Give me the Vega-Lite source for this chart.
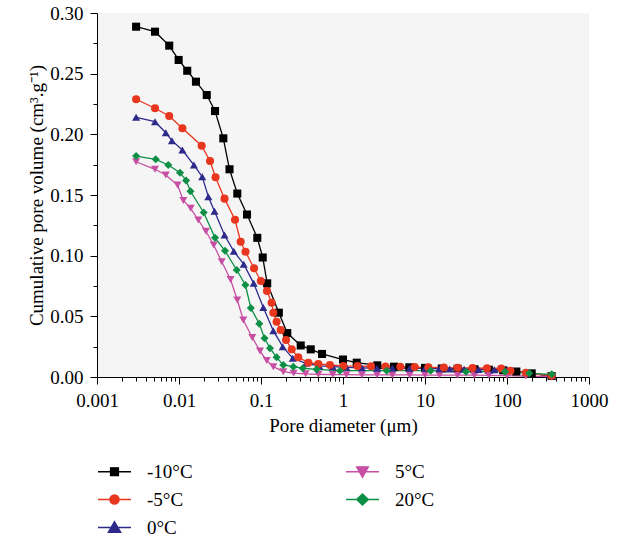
{
  "$schema": "https://vega.github.io/schema/vega-lite/v6.json",
  "width": 492,
  "height": 364,
  "autosize": {"type": "none"},
  "padding": {"left": 97, "top": 13, "right": 30, "bottom": 160},
  "background": "white",
  "config": {
    "font": "Liberation Serif",
    "view": {"fill": "#f5f5f5", "stroke": null},
    "axis": {
      "grid": false,
      "domainColor": "#000000",
      "tickColor": "#000000",
      "labelColor": "#000000",
      "titleColor": "#000000",
      "labelFont": "Liberation Serif",
      "titleFont": "Liberation Serif",
      "labelFontSize": 19,
      "titleFontSize": 19,
      "titleFontWeight": "normal",
      "domainWidth": 1,
      "tickWidth": 1
    }
  },
  "data": {
    "values": [
      {"s": "-10°C", "d": 0.003, "v": 0.2887},
      {"s": "-10°C", "d": 0.0051, "v": 0.2846},
      {"s": "-10°C", "d": 0.0076, "v": 0.2731},
      {"s": "-10°C", "d": 0.0099, "v": 0.2613},
      {"s": "-10°C", "d": 0.0126, "v": 0.2524},
      {"s": "-10°C", "d": 0.0161, "v": 0.2434},
      {"s": "-10°C", "d": 0.0218, "v": 0.2324},
      {"s": "-10°C", "d": 0.0275, "v": 0.2192},
      {"s": "-10°C", "d": 0.0347, "v": 0.1967},
      {"s": "-10°C", "d": 0.0413, "v": 0.1712},
      {"s": "-10°C", "d": 0.0514, "v": 0.1512},
      {"s": "-10°C", "d": 0.0675, "v": 0.1339},
      {"s": "-10°C", "d": 0.0901, "v": 0.1147},
      {"s": "-10°C", "d": 0.105, "v": 0.0985},
      {"s": "-10°C", "d": 0.119, "v": 0.0772},
      {"s": "-10°C", "d": 0.165, "v": 0.053},
      {"s": "-10°C", "d": 0.209, "v": 0.0362},
      {"s": "-10°C", "d": 0.305, "v": 0.026},
      {"s": "-10°C", "d": 0.404, "v": 0.0228},
      {"s": "-10°C", "d": 0.555, "v": 0.019},
      {"s": "-10°C", "d": 1.0, "v": 0.0144},
      {"s": "-10°C", "d": 1.47, "v": 0.0118},
      {"s": "-10°C", "d": 2.62, "v": 0.0096},
      {"s": "-10°C", "d": 4.19, "v": 0.0085},
      {"s": "-10°C", "d": 6.44, "v": 0.008},
      {"s": "-10°C", "d": 10, "v": 0.0075},
      {"s": "-10°C", "d": 16, "v": 0.007},
      {"s": "-10°C", "d": 25, "v": 0.0068},
      {"s": "-10°C", "d": 40, "v": 0.0064},
      {"s": "-10°C", "d": 60, "v": 0.006},
      {"s": "-10°C", "d": 90, "v": 0.0055},
      {"s": "-10°C", "d": 130, "v": 0.0045},
      {"s": "-10°C", "d": 200, "v": 0.003},
      {"s": "-10°C", "d": 350, "v": 0.0008},

      {"s": "5°C", "d": 0.003, "v": 0.1774},
      {"s": "5°C", "d": 0.0051, "v": 0.1712},
      {"s": "5°C", "d": 0.0069, "v": 0.1665},
      {"s": "5°C", "d": 0.0096, "v": 0.1582},
      {"s": "5°C", "d": 0.0113, "v": 0.1455},
      {"s": "5°C", "d": 0.0139, "v": 0.139},
      {"s": "5°C", "d": 0.0172, "v": 0.1294},
      {"s": "5°C", "d": 0.0213, "v": 0.1201},
      {"s": "5°C", "d": 0.0265, "v": 0.1088},
      {"s": "5°C", "d": 0.0332, "v": 0.095},
      {"s": "5°C", "d": 0.0425, "v": 0.0804},
      {"s": "5°C", "d": 0.0514, "v": 0.0635},
      {"s": "5°C", "d": 0.0608, "v": 0.047},
      {"s": "5°C", "d": 0.0782, "v": 0.0326},
      {"s": "5°C", "d": 0.0973, "v": 0.0214},
      {"s": "5°C", "d": 0.1175, "v": 0.0136},
      {"s": "5°C", "d": 0.1413, "v": 0.0085},
      {"s": "5°C", "d": 0.187, "v": 0.0044},
      {"s": "5°C", "d": 0.25, "v": 0.0032},
      {"s": "5°C", "d": 0.35, "v": 0.0026},
      {"s": "5°C", "d": 0.5, "v": 0.0022},
      {"s": "5°C", "d": 0.75, "v": 0.002},
      {"s": "5°C", "d": 1.1, "v": 0.0019},
      {"s": "5°C", "d": 1.7, "v": 0.0018},
      {"s": "5°C", "d": 2.6, "v": 0.0018},
      {"s": "5°C", "d": 4, "v": 0.0017},
      {"s": "5°C", "d": 6.5, "v": 0.0017},
      {"s": "5°C", "d": 10, "v": 0.0016},
      {"s": "5°C", "d": 15, "v": 0.0016},
      {"s": "5°C", "d": 25, "v": 0.0015},
      {"s": "5°C", "d": 40, "v": 0.0015},
      {"s": "5°C", "d": 60, "v": 0.0014},
      {"s": "5°C", "d": 100, "v": 0.0012},
      {"s": "5°C", "d": 170, "v": 0.0008},
      {"s": "5°C", "d": 350, "v": 0.0003},

      {"s": "0°C", "d": 0.003, "v": 0.214},
      {"s": "0°C", "d": 0.0051, "v": 0.2104},
      {"s": "0°C", "d": 0.0069, "v": 0.2013},
      {"s": "0°C", "d": 0.0082, "v": 0.1948},
      {"s": "0°C", "d": 0.011, "v": 0.1871},
      {"s": "0°C", "d": 0.0152, "v": 0.1747},
      {"s": "0°C", "d": 0.0192, "v": 0.1651},
      {"s": "0°C", "d": 0.0228, "v": 0.1486},
      {"s": "0°C", "d": 0.0271, "v": 0.1366},
      {"s": "0°C", "d": 0.0359, "v": 0.117},
      {"s": "0°C", "d": 0.0466, "v": 0.1036},
      {"s": "0°C", "d": 0.0615, "v": 0.093},
      {"s": "0°C", "d": 0.0815, "v": 0.0772},
      {"s": "0°C", "d": 0.1067, "v": 0.0573},
      {"s": "0°C", "d": 0.1413, "v": 0.0382},
      {"s": "0°C", "d": 0.184, "v": 0.025},
      {"s": "0°C", "d": 0.244, "v": 0.0154},
      {"s": "0°C", "d": 0.354, "v": 0.0113},
      {"s": "0°C", "d": 0.514, "v": 0.0091},
      {"s": "0°C", "d": 0.75, "v": 0.0085},
      {"s": "0°C", "d": 1.1, "v": 0.008},
      {"s": "0°C", "d": 1.7, "v": 0.0076},
      {"s": "0°C", "d": 2.6, "v": 0.0072},
      {"s": "0°C", "d": 4, "v": 0.0072},
      {"s": "0°C", "d": 6.5, "v": 0.0072},
      {"s": "0°C", "d": 10, "v": 0.0072},
      {"s": "0°C", "d": 15, "v": 0.0068},
      {"s": "0°C", "d": 20, "v": 0.0066},
      {"s": "0°C", "d": 30, "v": 0.0064},
      {"s": "0°C", "d": 45, "v": 0.0062},
      {"s": "0°C", "d": 70, "v": 0.006},
      {"s": "0°C", "d": 100, "v": 0.0055},
      {"s": "0°C", "d": 170, "v": 0.0035},
      {"s": "0°C", "d": 350, "v": 0.001},

      {"s": "-5°C", "d": 0.003, "v": 0.2289},
      {"s": "-5°C", "d": 0.0051, "v": 0.2215},
      {"s": "-5°C", "d": 0.0076, "v": 0.2151},
      {"s": "-5°C", "d": 0.011, "v": 0.205},
      {"s": "-5°C", "d": 0.0189, "v": 0.1906},
      {"s": "-5°C", "d": 0.0239, "v": 0.178},
      {"s": "-5°C", "d": 0.0279, "v": 0.1646},
      {"s": "-5°C", "d": 0.0359, "v": 0.147},
      {"s": "-5°C", "d": 0.0482, "v": 0.1296},
      {"s": "-5°C", "d": 0.0565, "v": 0.1115},
      {"s": "-5°C", "d": 0.0647, "v": 0.1033},
      {"s": "-5°C", "d": 0.0822, "v": 0.0896},
      {"s": "-5°C", "d": 0.0996, "v": 0.0791},
      {"s": "-5°C", "d": 0.1183, "v": 0.0709},
      {"s": "-5°C", "d": 0.1349, "v": 0.0612},
      {"s": "-5°C", "d": 0.1413, "v": 0.053},
      {"s": "-5°C", "d": 0.155, "v": 0.0456},
      {"s": "-5°C", "d": 0.174, "v": 0.0387},
      {"s": "-5°C", "d": 0.202, "v": 0.0305},
      {"s": "-5°C", "d": 0.237, "v": 0.0228},
      {"s": "-5°C", "d": 0.285, "v": 0.0162},
      {"s": "-5°C", "d": 0.378, "v": 0.0118},
      {"s": "-5°C", "d": 0.5, "v": 0.0107},
      {"s": "-5°C", "d": 0.693, "v": 0.0099},
      {"s": "-5°C", "d": 1.01, "v": 0.0091},
      {"s": "-5°C", "d": 1.5, "v": 0.009},
      {"s": "-5°C", "d": 2.2, "v": 0.0088},
      {"s": "-5°C", "d": 3.3, "v": 0.0086},
      {"s": "-5°C", "d": 5, "v": 0.0084},
      {"s": "-5°C", "d": 7.5, "v": 0.0082},
      {"s": "-5°C", "d": 11, "v": 0.008},
      {"s": "-5°C", "d": 17, "v": 0.0078},
      {"s": "-5°C", "d": 25, "v": 0.0076},
      {"s": "-5°C", "d": 38, "v": 0.0074},
      {"s": "-5°C", "d": 57, "v": 0.0072},
      {"s": "-5°C", "d": 85, "v": 0.007},
      {"s": "-5°C", "d": 110, "v": 0.0052},
      {"s": "-5°C", "d": 170, "v": 0.0035},
      {"s": "-5°C", "d": 350, "v": 0.001},

      {"s": "20°C", "d": 0.003, "v": 0.1821},
      {"s": "20°C", "d": 0.0052, "v": 0.1794},
      {"s": "20°C", "d": 0.0074, "v": 0.1747},
      {"s": "20°C", "d": 0.0103, "v": 0.1684},
      {"s": "20°C", "d": 0.0122, "v": 0.162},
      {"s": "20°C", "d": 0.0138, "v": 0.1531},
      {"s": "20°C", "d": 0.02, "v": 0.1356},
      {"s": "20°C", "d": 0.0275, "v": 0.1147},
      {"s": "20°C", "d": 0.0364, "v": 0.104},
      {"s": "20°C", "d": 0.0506, "v": 0.0882},
      {"s": "20°C", "d": 0.0645, "v": 0.0758},
      {"s": "20°C", "d": 0.0752, "v": 0.0569},
      {"s": "20°C", "d": 0.0953, "v": 0.0439},
      {"s": "20°C", "d": 0.1104, "v": 0.0319},
      {"s": "20°C", "d": 0.1288, "v": 0.0237},
      {"s": "20°C", "d": 0.155, "v": 0.0162},
      {"s": "20°C", "d": 0.187, "v": 0.0099},
      {"s": "20°C", "d": 0.248, "v": 0.0085},
      {"s": "20°C", "d": 0.323, "v": 0.0072},
      {"s": "20°C", "d": 0.477, "v": 0.0063},
      {"s": "20°C", "d": 0.918, "v": 0.0052},
      {"s": "20°C", "d": 3.41, "v": 0.0052},
      {"s": "20°C", "d": 11.7, "v": 0.0052},
      {"s": "20°C", "d": 31.6, "v": 0.0044},
      {"s": "20°C", "d": 94.6, "v": 0.0044},
      {"s": "20°C", "d": 187, "v": 0.003},
      {"s": "20°C", "d": 351, "v": 0.0022}
    ]
  },
  "layer": [
    {
      "mark": {"type": "line", "strokeWidth": 1.3},
      "encoding": {
        "x": {
          "field": "d", "type": "quantitative",
          "scale": {"type": "log", "domain": [0.001, 1000]},
          "axis": {
            "orient": "bottom",
            "values": [0.001, 0.01, 0.1, 1, 10, 100, 1000],
            "format": "~g",
            "tickSize": 7,
            "labelPadding": 7,
            "labelFlush": false,
            "labelOverlap": false,
            "title": "Pore diameter (μm)",
            "titlePadding": 6
          }
        },
        "y": {
          "field": "v", "type": "quantitative",
          "scale": {"domain": [0, 0.3]},
          "axis": {
            "orient": "left",
            "values": [0, 0.05, 0.1, 0.15, 0.2, 0.25, 0.3],
            "format": ".2f",
            "tickSize": 7,
            "labelPadding": 7,
            "labelFlush": false,
            "labelOverlap": false,
            "title": "Cumulative pore volume (cm³.g⁻¹)",
            "titlePadding": 3
          }
        },
        "stroke": {
          "field": "s", "type": "nominal",
          "scale": {
            "domain": ["-10°C", "-5°C", "0°C", "5°C", "20°C"],
            "range": ["#000000", "#e8361f", "#2d2a8c", "#c64fa3", "#0d8f45"]
          },
          "legend": null
        },
        "order": {"field": "d", "type": "quantitative"}
      }
    },
    {
      "mark": {"type": "point", "filled": true, "size": 65, "opacity": 1},
      "encoding": {
        "x": {"field": "d", "type": "quantitative", "scale": {"type": "log", "domain": [0.001, 1000]}, "axis": null},
        "y": {"field": "v", "type": "quantitative", "scale": {"domain": [0, 0.3]}, "axis": null},
        "fill": {
          "field": "s", "type": "nominal",
          "scale": {
            "domain": ["-10°C", "-5°C", "0°C", "5°C", "20°C"],
            "range": ["#000000", "#e8361f", "#2d2a8c", "#c64fa3", "#0d8f45"]
          },
          "legend": null
        },
        "shape": {
          "field": "s", "type": "nominal",
          "scale": {
            "domain": ["-10°C", "-5°C", "0°C", "5°C", "20°C"],
            "range": ["square", "circle", "triangle-up", "triangle-down", "diamond"]
          },
          "legend": null
        }
      }
    },
    {
      "data": {"values": []},
      "mark": {"type": "point", "filled": true, "opacity": 1},
      "encoding": {
        "x": {
          "field": "d", "type": "quantitative",
          "scale": {"type": "log", "domain": [0.001, 1000]},
          "axis": {
            "orient": "bottom",
            "values": [0.002, 0.003, 0.004, 0.005, 0.006, 0.007, 0.008, 0.009, 0.02, 0.03, 0.04, 0.05, 0.06, 0.07, 0.08, 0.09, 0.2, 0.3, 0.4, 0.5, 0.6, 0.7, 0.8, 0.9, 2, 3, 4, 5, 6, 7, 8, 9, 20, 30, 40, 50, 60, 70, 80, 90, 200, 300, 400, 500, 600, 700, 800, 900],
            "labels": false,
            "domain": false,
            "tickSize": 4,
            "title": null
          }
        },
        "y": {
          "field": "v", "type": "quantitative",
          "scale": {"domain": [0, 0.3]},
          "axis": {
            "orient": "left",
            "values": [0.025, 0.075, 0.125, 0.175, 0.225, 0.275],
            "labels": false,
            "domain": false,
            "tickSize": 4,
            "title": null
          }
        },
        "fill": {
          "field": "s", "type": "nominal",
          "scale": {
            "domain": ["-10°C", "-5°C", "0°C", "5°C", "20°C"],
            "range": ["#000000", "#e8361f", "#2d2a8c", "#c64fa3", "#0d8f45"]
          },
          "legend": {
            "orient": "none", "legendX": 0, "legendY": 441, "columns": 2, "title": null,
            "symbolSize": 1089, "symbolStrokeWidth": 1.3, "symbolOpacity": 1,
            "labelFont": "Liberation Serif", "labelFontSize": 19, "labelColor": "#000000",
            "labelOffset": 15, "columnPadding": 150, "rowPadding": -6, "padding": 0
          }
        },
        "stroke": {
          "field": "s", "type": "nominal",
          "scale": {
            "domain": ["-10°C", "-5°C", "0°C", "5°C", "20°C"],
            "range": ["#000000", "#e8361f", "#2d2a8c", "#c64fa3", "#0d8f45"]
          },
          "legend": {
            "orient": "none", "legendX": 0, "legendY": 441, "columns": 2, "title": null,
            "symbolSize": 1089, "symbolStrokeWidth": 1.3, "symbolOpacity": 1,
            "labelFont": "Liberation Serif", "labelFontSize": 19, "labelColor": "#000000",
            "labelOffset": 15, "columnPadding": 150, "rowPadding": -6, "padding": 0
          }
        },
        "shape": {
          "field": "s", "type": "nominal",
          "scale": {
            "domain": ["-10°C", "-5°C", "0°C", "5°C", "20°C"],
            "range": [
              "M-1,0H1M-0.24,-0.24H0.24V0.24H-0.24Z",
              "M-1,0H1M0.28,0A0.28,0.28,0,1,1,-0.28,0A0.28,0.28,0,1,1,0.28,0Z",
              "M-1,0H1M0,-0.36L0.38,0.3H-0.38Z",
              "M-1,0H1M-0.36,-0.3H0.36L0,0.34Z",
              "M-1,0H1M0,-0.34L0.36,0L0,0.34L-0.36,0Z"
            ]
          },
          "legend": {
            "orient": "none", "legendX": 0, "legendY": 441, "columns": 2, "title": null,
            "symbolSize": 1089, "symbolStrokeWidth": 1.3, "symbolOpacity": 1,
            "labelFont": "Liberation Serif", "labelFontSize": 19, "labelColor": "#000000",
            "labelOffset": 15, "columnPadding": 150, "rowPadding": -6, "padding": 0
          }
        }
      }
    }
  ],
  "resolve": {
    "axis": {"x": "independent", "y": "independent"},
    "scale": {"fill": "independent", "stroke": "independent", "shape": "independent"}
  }
}
